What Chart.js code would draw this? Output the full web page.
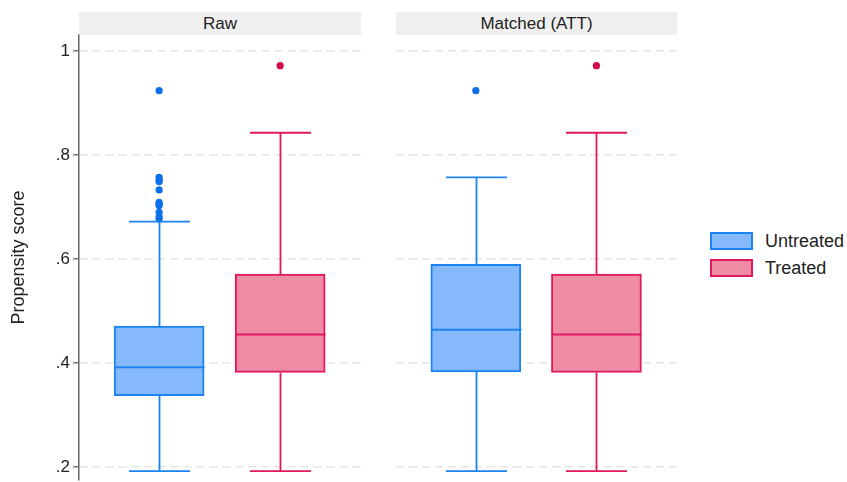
<!DOCTYPE html>
<html>
<head>
<meta charset="utf-8">
<script src="https://cdn.jsdelivr.net/npm/chart.js@4"></script>
<style>
  body { margin: 0; background: #fff; width: 847px; height: 482px; position: relative; overflow: hidden;
         font-family: "Liberation Sans", Arial, Helvetica, sans-serif; color: #222; }
  .panel { position: absolute; top: 0; height: 482px; }
  .strip { position: absolute; top: 12px; height: 23px; background: #efefef; text-align: center;
           font-size: 17px; line-height: 24px; color: #222; }
  .legend { position: absolute; left: 710px; top: 232px; }
  .item { position: relative; height: 18px; margin-bottom: 8.5px; }
  .swatch { position: absolute; left: 0; top: 0; width: 39px; height: 14px; border: 2px solid; }
  .label { position: absolute; left: 55px; top: 0; font-size: 18px; line-height: 18px; white-space: nowrap; }
</style>
</head>
<body>
<div class="panel" style="left:0;width:361px"><canvas id="rawChart"></canvas></div>
<div class="panel" style="left:396px;width:281px"><canvas id="matchedChart"></canvas></div>
<div class="strip" id="stripRaw" style="left:79px;width:282px"></div>
<div class="strip" id="stripMatched" style="left:396px;width:281px"></div>
<div class="legend" id="legend"></div>

<script>
// Groups, panels and axis ticks
const groups = ['Untreated', 'Treated'];
const panels = ['Raw', 'Matched (ATT)'];
const yTicks = [0.2, 0.4, 0.6, 0.8, 1];

// Raw sample: box-plot summaries (lower whisker, Q1, median, Q3, upper whisker)
const rawLow    = [0.192, 0.192];
const rawQ1     = [0.337, 0.382];
const rawMedian = [0.392, 0.455];
const rawQ3     = [0.471, 0.571];
const rawHigh   = [0.672, 0.843];
const rawOutliersUntreated = [0.924, 0.757, 0.752, 0.749, 0.733, 0.709, 0.706, 0.703, 0.690, 0.681, 0.677];
const rawOutliersTreated   = [0.972];

// Matched (ATT) sample
const matchedLow    = [0.192, 0.192];
const matchedQ1     = [0.383, 0.382];
const matchedMedian = [0.464, 0.455];
const matchedQ3     = [0.590, 0.571];
const matchedHigh   = [0.757, 0.843];
const matchedOutliersUntreated = [0.924];
const matchedOutliersTreated   = [0.972];

// Colours per group
const fillColors   = ['#86b9fc', '#ee8ca6'];
const borderColors = ['#1c84f2', '#e0195f'];
const dotColors    = ['#0a6fe8', '#d6084d'];

const BOX_PX = 90;      // box width in pixels
const CAP_HALF = 30.5;  // half width of whisker caps
const FONT = '"Liberation Sans", Arial, Helvetica, sans-serif';

// Draws whiskers, caps and medians from the summary arrays using the chart scales
const whiskerPlugin = {
  id: 'whiskers',
  afterDatasetsDraw(chart, args, opts) {
    const { ctx, scales: { x, y } } = chart;
    const s = opts.stats;
    ctx.save();
    groups.forEach((g, i) => {
      const cx = Math.round(x.getPixelForValue(i)) + 0.5;
      const yLow = y.getPixelForValue(s.low[i]);
      const yQ1 = y.getPixelForValue(s.q1[i]);
      const yMed = y.getPixelForValue(s.median[i]);
      const yQ3 = y.getPixelForValue(s.q3[i]);
      const yHigh = y.getPixelForValue(s.high[i]);
      ctx.strokeStyle = borderColors[i];
      ctx.lineWidth = 1.8;
      ctx.beginPath();
      ctx.moveTo(cx, yQ3); ctx.lineTo(cx, yHigh);
      ctx.moveTo(cx - CAP_HALF, yHigh); ctx.lineTo(cx + CAP_HALF, yHigh);
      ctx.moveTo(cx, yQ1); ctx.lineTo(cx, yLow);
      ctx.moveTo(cx - CAP_HALF, yLow); ctx.lineTo(cx + CAP_HALF, yLow);
      ctx.stroke();
      ctx.lineWidth = 2;
      ctx.beginPath();
      ctx.moveTo(cx - BOX_PX / 2, yMed); ctx.lineTo(cx + BOX_PX / 2, yMed);
      ctx.stroke();
    });
    ctx.restore();
  }
};

function buildChart(canvasId, stats, outliers, showAxis) {
  const datasets = [{
    type: 'bar',
    data: groups.map((g, i) => ({ x: i, y: [stats.q1[i], stats.q3[i]] })),
    backgroundColor: fillColors,
    borderColor: borderColors,
    borderWidth: 2,
    borderSkipped: false,
    barThickness: BOX_PX,
    order: 2
  }];
  groups.forEach((g, i) => {
    datasets.push({
      type: 'scatter',
      data: outliers[i].map(v => ({ x: i, y: v })),
      backgroundColor: dotColors[i],
      borderWidth: 0,
      pointRadius: 3.6,
      order: 1
    });
  });

  return new Chart(document.getElementById(canvasId), {
    type: 'bar',
    data: { datasets },
    plugins: [whiskerPlugin],
    options: {
      responsive: true,
      maintainAspectRatio: false,
      animation: false,
      layout: { autoPadding: false, padding: { top: 35, bottom: 2, left: 0, right: 0 } },
      plugins: {
        legend: { display: false },
        tooltip: { enabled: false },
        whiskers: { stats }
      },
      scales: {
        x: { type: 'linear', min: -0.662, max: 1.668, offset: false, display: false },
        y: {
          type: 'linear',
          min: 0.175,
          max: 1.031,
          afterBuildTicks: (scale) => { scale.ticks = yTicks.map(v => ({ value: v })); },
          afterFit: (scale) => {
            scale.width = showAxis ? 79 : 0;
            scale.paddingTop = 0;
            scale.paddingBottom = 0;
          },
          grid: {
            color: '#e6e6e6',
            lineWidth: 1.5,
            drawTicks: showAxis,
            tickLength: 6,
            tickColor: '#666',
            tickWidth: 1.3,
            tickBorderDash: []
          },
          border: { display: showAxis, color: '#666', width: 1.5, dash: [8, 5] },
          ticks: {
            display: showAxis,
            padding: 3,
            color: '#222',
            font: { family: FONT, size: 17 },
            callback: (v) => (v === 1 ? '1' : String(v).replace(/^0/, ''))
          },
          title: {
            display: showAxis,
            text: 'Propensity score',
            color: '#222',
            font: { family: FONT, size: 18 },
            padding: { top: 8, bottom: 0 }
          }
        }
      }
    }
  });
}

buildChart('rawChart',
  { low: rawLow, q1: rawQ1, median: rawMedian, q3: rawQ3, high: rawHigh },
  [rawOutliersUntreated, rawOutliersTreated], true);
buildChart('matchedChart',
  { low: matchedLow, q1: matchedQ1, median: matchedMedian, q3: matchedQ3, high: matchedHigh },
  [matchedOutliersUntreated, matchedOutliersTreated], false);

// Panel headers and legend
document.getElementById('stripRaw').textContent = panels[0];
document.getElementById('stripMatched').textContent = panels[1];
const legend = document.getElementById('legend');
groups.forEach((g, i) => {
  const item = document.createElement('div');
  item.className = 'item';
  const sw = document.createElement('div');
  sw.className = 'swatch';
  sw.style.background = fillColors[i];
  sw.style.borderColor = borderColors[i];
  const lab = document.createElement('div');
  lab.className = 'label';
  lab.textContent = g;
  item.appendChild(sw);
  item.appendChild(lab);
  legend.appendChild(item);
});
</script>
</body>
</html>
